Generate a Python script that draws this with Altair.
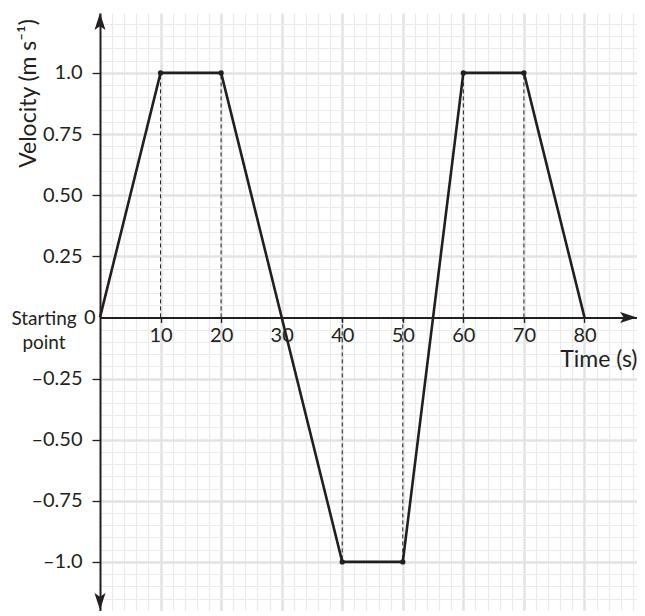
import altair as alt
import pandas as pd
import numpy as np

# ---- data ----
time_s = [0, 10, 20, 40, 50, 60, 70, 80]
velocity = [0.0, 1.0, 1.0, -1.0, -1.0, 1.0, 1.0, 0.0]
x_label_values = [10, 20, 30, 40, 50, 60, 70, 80]
y_label_values = [-1.0, -0.75, -0.5, -0.25, 0.0, 0.25, 0.5, 0.75, 1.0]
y_label_texts = ["\u20131.0", "\u20130.75", "\u20130.50", "\u20130.25", "0",
                 "0.25", "0.50", "0.75", "1.0"]

# grid positions (graph paper): every 2 s and every 0.05 m/s
grid_x = list(range(0, 90, 2))
grid_y = [round(v, 2) for v in np.arange(-1.2, 1.2501, 0.05)]

INK = "#231f20"
FONT = "Lato"
W, H = 537, 598
PX_PER_S = 6.056
PX_PER_V = 244.5
XMIN = 0
XMAX = W / PX_PER_S
YMAX = 1.245
YMIN = YMAX - H / PX_PER_V
y0px = H * YMAX / (YMAX - YMIN)
x_offset = -(H - y0px)

xscale = alt.Scale(domain=[XMIN, XMAX], nice=False, zero=False)
yscale = alt.Scale(domain=[YMIN, YMAX], nice=False, zero=False)

x_lab_expr = " : ".join(
    [f"abs(datum.value-({v}))<1e-6 ? '{v}'" for v in x_label_values]) + " : ''"
y_lab_expr = " : ".join(
    [f"abs(datum.value-({v}))<1e-6 ? '{t}'" for v, t in zip(y_label_values, y_label_texts)]) + " : ''"

x_is_label = "indexof([" + ",".join(str(v) for v in x_label_values) + "], datum.value) >= 0"
y_is_label = ("abs(datum.value*4-round(datum.value*4))<1e-6 && abs(datum.value)<1.001 "
              "&& abs(datum.value)>1e-6")
y_major = "abs(datum.value*4-round(datum.value*4))<1e-6"

x_axis = alt.Axis(
    values=grid_x, orient="bottom", offset=x_offset,
    grid=True,
    gridColor={"condition": {"test": "datum.value % 10 === 0", "value": "#e3e3e5"}, "value": "#ebebec"},
    gridWidth={"condition": {"test": "datum.value % 10 === 0", "value": 2.5}, "value": 1.2},
    gridOpacity={"condition": {"test": "datum.value === 0", "value": 0}, "value": 1},
    labelExpr=x_lab_expr, labelOverlap=False, labelBound=False, labelFlush=False,
    labelFont=FONT, labelFontSize=20, labelColor=INK, labelPadding=3,
    tickSize=5, tickWidth=1.3, tickColor=INK,
    tickOpacity={"condition": {"test": x_is_label, "value": 1}, "value": 0},
    domainColor=INK, domainWidth=2,
    title="Time (s)", titleFont=FONT, titleFontSize=23, titleFontWeight="normal",
    titleColor=INK, titleX=W, titleY=42, titleAlign="right", titleBaseline="middle",
    titleAngle=0,
)

y_axis = alt.Axis(
    values=grid_y, orient="left",
    grid=True,
    gridColor={"condition": {"test": y_major, "value": "#e3e3e5"}, "value": "#ebebec"},
    gridWidth={"condition": {"test": y_major, "value": 2.5}, "value": 1.2},
    gridOpacity={"condition": {"test": "abs(datum.value)<1e-6", "value": 0}, "value": 1},
    labelExpr=y_lab_expr, labelOverlap=False, labelBound=False, labelFlush=False,
    labelFont=FONT, labelFontSize=20, labelColor=INK,
    labelPadding={"condition": {"test": "abs(datum.value)<1e-6", "value": -3}, "value": 10},
    tickSize=8, tickWidth=1.3, tickColor=INK,
    tickOpacity={"condition": {"test": y_is_label, "value": 1}, "value": 0},
    domainColor=INK, domainWidth=2,
    title="Velocity (m s\u207b\u00b9)", titleFont=FONT, titleFontSize=23,
    titleFontWeight="normal", titleColor=INK, titleX=-72, titleY=80,
    titleAlign="center", titleBaseline="middle", titleAngle=270,
)

df = pd.DataFrame({"t": time_s, "v": velocity})
df_pts = df[df["v"] != 0].copy()
df_pts["zero"] = 0.0

X = alt.X("t:Q", scale=xscale, axis=x_axis)
Y = alt.Y("v:Q", scale=yscale, axis=y_axis)

line = alt.Chart(df).mark_line(color=INK, strokeWidth=2.6).encode(x=X, y=Y)

drops = alt.Chart(df_pts).mark_rule(color=INK, strokeWidth=1, strokeDash=[4, 3]).encode(
    x=X, y=alt.Y("zero:Q", scale=yscale, axis=y_axis), y2="v:Q")

dots = alt.Chart(df_pts).mark_circle(color=INK, size=28, opacity=1).encode(x=X, y=Y)

arrow_up = "M0,0 L0.65,2 L0,1.55 L-0.65,2 Z"
arrow_down = "M0,0 L0.65,-2 L0,-1.55 L-0.65,-2 Z"
arrow_right = "M0,0 L-2,0.65 L-1.55,0 L-2,-0.65 Z"

def arrow(tx, vy, shape):
    d = pd.DataFrame({"t": [tx], "v": [vy]})
    return alt.Chart(d).mark_point(shape=shape, filled=True, size=289, color=INK,
                                   opacity=1, strokeWidth=0).encode(x=X, y=Y)

arrows = (arrow(XMIN, YMAX, arrow_up) + arrow(XMIN, YMIN + 0.004, arrow_down)
          + arrow(XMAX, 0.0, arrow_right))

start = alt.Chart(pd.DataFrame({"a": [0]})).mark_text(
    text=["Starting", "point"], align="center", baseline="middle", fontSize=19,
    lineHeight=24, font=FONT, color=INK).encode(
    x=alt.value(-56), y=alt.value(y0px + 2))

chart = alt.layer(line, drops, dots, arrows, start).properties(
    width=W, height=H,
    autosize=alt.AutoSizeParams(type="none"),
    padding={"left": 92, "top": 5, "right": 0, "bottom": 0},
    background="white",
).configure_view(stroke=None)

chart.save("out.html", embed_options={"renderer": "svg", "actions": False})
